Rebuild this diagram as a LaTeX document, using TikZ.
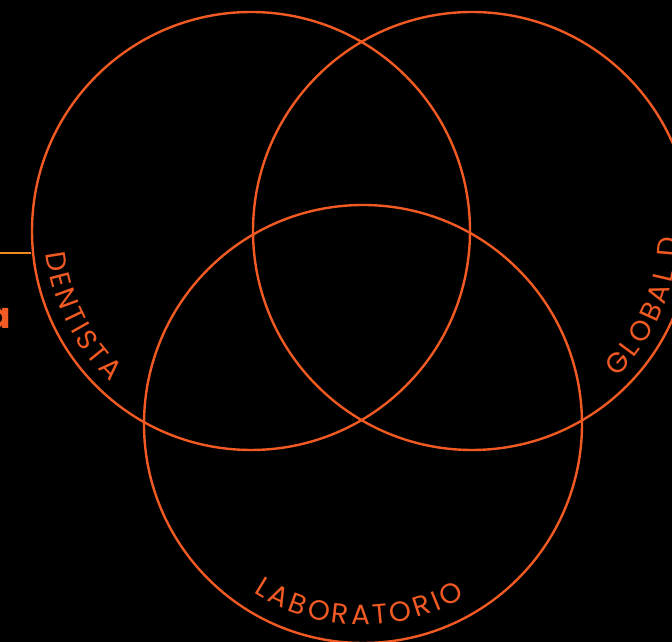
\documentclass[tikz,border=0pt]{standalone}
\usepackage{fontspec}
\setmainfont{Poppins}
\usetikzlibrary{decorations.text}
\definecolor{vorange}{HTML}{F15A22}
\definecolor{vamber}{HTML}{EE8A22}
\newcommand{\arclabel}{\fontsize{28}{28}\selectfont}
\tikzset{
  setring/.style={draw=vorange, line width=2.4pt, circle, minimum size=438pt, inner sep=0pt},
  ringtext/.style={decorate, decoration={text along path, text color=vorange, text align=fit to path, text={#1}}}
}
\begin{document}
\begin{tikzpicture}[x=1pt, y=1pt]
  \fill[black] (0,0) rectangle (672,642);
  \clip (0,0) rectangle (672,642);
  \node[setring] (dent) at (251,411) {};
  \node[setring] (glob) at (472,411) {};
  \node[setring] (lab) at (363,218) {};
  \coordinate (lend) at (0,389);
  \draw[vamber, line width=1.6pt] (lend) -- (lend -| dent.west);
  \node[anchor=east, text=vorange, font=\fontsize{36}{36}\selectfont\bfseries, inner sep=0pt] (aglyph) at (11,324) {a};
  \path[ringtext={|\arclabel|DENTISTA}] (dent.center) ++(186.2:206) arc[start angle=186.2, end angle=227, radius=206];
  \path[ringtext={|\arclabel|LABORATORIO}] (lab.center) ++(237:201) arc[start angle=237, end angle=300.5, radius=201];
  \path[ringtext={|\arclabel|GLOBAL D}] (glob.center) ++(-45.2:206) arc[start angle=-45.2, end angle=-2, radius=206];
\end{tikzpicture}
\end{document}
